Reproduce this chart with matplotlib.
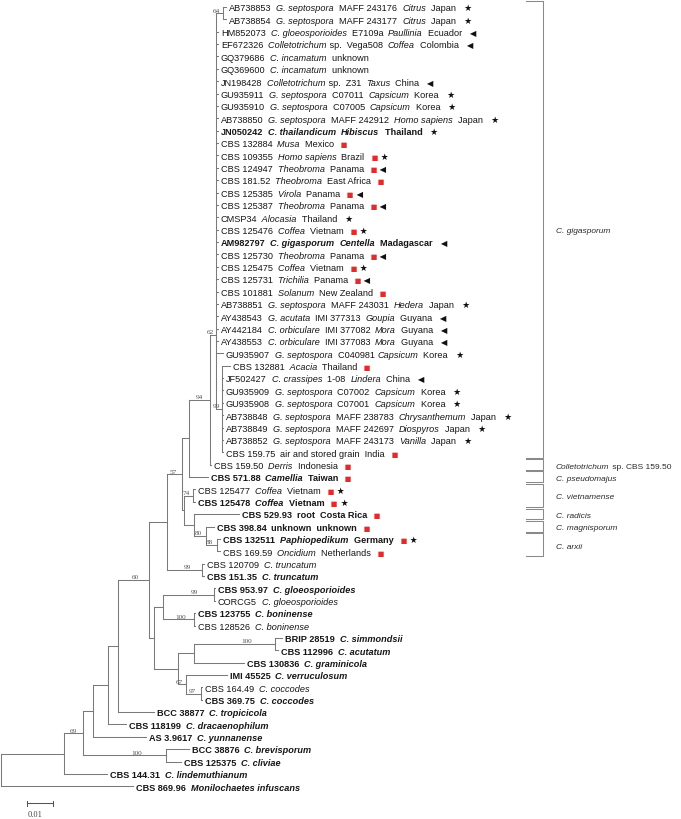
import re
import matplotlib
matplotlib.use('Agg')
import matplotlib.pyplot as plt
from matplotlib.collections import LineCollection
from matplotlib.transforms import Affine2D

# ML tree: branch lengths in substitutions/site, internal labels are bootstrap values
newick = """
((((((((((((('AB738853':0.0012,'AB738854':0.0012)64:0.0027,
'HM852073':0.0008,'EF672326':0.0008,'GQ379686':0.0008,'GQ369600':0.0008,
'JN198428':0.0008,'GU935911':0.0008,'GU935910':0.0008,'AB738850':0.0008,
'JN050242':0.0008,'CBS 132884':0.0008,'CBS 109355':0.0008,'CBS 124947':0.0008,
'CBS 181.52':0.0008,'CBS 125385':0.0008,'CBS 125387':0.0008,'CMSP34':0.0008,
'CBS 125476':0.0008,'AM982797':0.0008,'CBS 125730':0.0008,'CBS 125475':0.0008,
'CBS 125731':0.0008,'CBS 101881':0.0008,'AB738851':0.0008,'AY438543':0.0008,
'AY442184':0.0008,'AY438553':0.0008,'GU935907':0.0027,
('CBS 132881':0.0031,'JF502427':0.0004,'GU935909':0.0004,'GU935908':0.0004,
'AB738848':0.0004,'AB738849':0.0004,'AB738852':0.0004,'CBS 159.75':0.0004)99:0.0023
)62:0.0023,'CBS 159.50':0.0004)94:0.0081,'CBS 571.88':0.0073):0.0027,
(('CBS 125477':0.0008,'CBS 125478':0.0008)74:0.0035,
('CBS 529.93':0.0173,('CBS 398.84':0.0031,('CBS 132511':0.0015,'CBS 169.59':0.0012)88:0.0042)80:0.0046):0.0038
):0.0008)57:0.0058,
('CBS 120709':0.0004,'CBS 151.35':0.0004)99:0.0138):0.0069,
((('CBS 953.97':0.0004,'CORCG5':0.0004)99:0.0196,('CBS 123755':0.0004,'CBS 128526':0.0004)100:0.0119):0.0035,
((('BRIP 28519':0.0027,'CBS 112996':0.0012)100:0.0312,'CBS 130836':0.0192):0.0062,
('IMI 45525':0.0158,('CBS 164.49':0.0004,'CBS 369.75':0.0004)97:0.0058)67:0.0031):0.0092
):0.0019)60:0.0119,'BCC 38877':0.0138):0.0038,'CBS 118199':0.0069):0.0058,
'AS 3.9617':0.0204):0.0038,('BCC 38876':0.0088,'CBS 125375':0.0058)100:0.0319)69:0.0073,
'CBS 144.31':0.0165):0.0242,'CBS 869.96':0.0508);
"""

# rest of each tip label; _..._ marks italics
tip_ids = ['AB738853', 'AB738854', 'HM852073', 'EF672326', 'GQ379686', 'GQ369600',
           'JN198428', 'GU935911', 'GU935910', 'AB738850', 'JN050242', 'CBS 132884',
           'CBS 109355', 'CBS 124947', 'CBS 181.52', 'CBS 125385', 'CBS 125387', 'CMSP34',
           'CBS 125476', 'AM982797', 'CBS 125730', 'CBS 125475', 'CBS 125731', 'CBS 101881',
           'AB738851', 'AY438543', 'AY442184', 'AY438553', 'GU935907', 'CBS 132881',
           'JF502427', 'GU935909', 'GU935908', 'AB738848', 'AB738849', 'AB738852',
           'CBS 159.75', 'CBS 159.50', 'CBS 571.88', 'CBS 125477', 'CBS 125478', 'CBS 529.93',
           'CBS 398.84', 'CBS 132511', 'CBS 169.59', 'CBS 120709', 'CBS 151.35', 'CBS 953.97',
           'CORCG5', 'CBS 123755', 'CBS 128526', 'BRIP 28519', 'CBS 112996', 'CBS 130836',
           'IMI 45525', 'CBS 164.49', 'CBS 369.75', 'BCC 38877', 'CBS 118199', 'AS 3.9617',
           'BCC 38876', 'CBS 125375', 'CBS 144.31', 'CBS 869.96']
tip_text = ['_G. septospora_  MAFF 243176  _Citrus_  Japan',
            '_G. septospora_  MAFF 243177  _Citrus_  Japan',
            '_C. gloeosporioides_  E7109a  _Paullinia_  Ecuador',
            '_Colletotrichum_ sp.  Vega508  _Coffea_  Colombia',
            '_C. incamatum_  unknown',
            '_C. incamatum_  unknown',
            '_Colletotrichum_ sp.  Z31  _Taxus_  China',
            '_G. septospora_  C07011  _Capsicum_  Korea',
            '_G. septospora_  C07005  _Capsicum_  Korea',
            '_G. septospora_  MAFF 242912  _Homo sapiens_  Japan',
            '_C. thailandicum_  _Hibiscus_  Thailand',
            '_Musa_  Mexico',
            '_Homo sapiens_  Brazil',
            '_Theobroma_  Panama',
            '_Theobroma_  East Africa',
            '_Virola_  Panama',
            '_Theobroma_  Panama',
            '_Alocasia_  Thailand',
            '_Coffea_  Vietnam',
            '_C. gigasporum_  _Centella_  Madagascar',
            '_Theobroma_  Panama',
            '_Coffea_  Vietnam',
            '_Trichilia_  Panama',
            '_Solanum_  New Zealand',
            '_G. septospora_  MAFF 243031  _Hedera_  Japan',
            '_G. acutata_  IMI 377313  _Goupia_  Guyana',
            '_C. orbiculare_  IMI 377082  _Mora_  Guyana',
            '_C. orbiculare_  IMI 377083  _Mora_  Guyana',
            '_G. septospora_  C040981 _Capsicum_  Korea',
            '_Acacia_  Thailand',
            '_C. crassipes_  1-08  _Lindera_  China',
            '_G. septospora_  C07002  _Capsicum_  Korea',
            '_G. septospora_  C07001  _Capsicum_  Korea',
            '_G. septospora_  MAFF 238783  _Chrysanthemum_  Japan',
            '_G. septospora_  MAFF 242697  _Diospyros_  Japan',
            '_G. septospora_  MAFF 243173  _Vanilla_  Japan',
            'air and stored grain  India',
            '_Derris_  Indonesia',
            '_Camellia_  Taiwan',
            '_Coffea_  Vietnam',
            '_Coffea_  Vietnam',
            'root  Costa Rica',
            'unknown  unknown',
            '_Paphiopedikum_  Germany',
            '_Oncidium_  Netherlands',
            '_C. truncatum_', '_C. truncatum_',
            '_C. gloeosporioides_', '_C. gloeosporioides_',
            '_C. boninense_', '_C. boninense_',
            '_C. simmondsii_', '_C. acutatum_', '_C. graminicola_', '_C. verruculosum_',
            '_C. coccodes_', '_C. coccodes_', '_C. tropicicola_', '_C. dracaenophilum_',
            '_C. yunnanense_', '_C. brevisporum_', '_C. cliviae_', '_C. lindemuthianum_',
            '_Monilochaetes infuscans_']
# s = red square, * = star, < = triangle
tip_marks = ['*', '*', '<', '<', '', '', '<', '*', '*', '*', '*', 's', 's*', 's<', 's',
             's<', 's<', '*', 's*', '<', 's<', 's*', 's<', 's', '*', '<', '<', '<', '*', 's',
             '<', '*', '*', '*', '*', '*', 's', 's', 's', 's*', 's*', 's', 's', 's*', 's',
             '', '', '', '', '', '', '', '', '', '', '', '', '', '', '', '', '', '', '']
bold_ids = ['JN050242', 'AM982797', 'CBS 571.88', 'CBS 125478', 'CBS 529.93', 'CBS 398.84',
            'CBS 132511', 'CBS 151.35', 'CBS 953.97', 'CBS 123755', 'BRIP 28519',
            'CBS 112996', 'CBS 130836', 'IMI 45525', 'CBS 369.75', 'BCC 38877', 'CBS 118199',
            'AS 3.9617', 'BCC 38876', 'CBS 125375', 'CBS 144.31', 'CBS 869.96']

# species groups marked on the right (first tip, last tip)
clade_names = [[('C. gigasporum', 'italic')],
               [('Colletotrichum', 'italic'), (' sp. CBS 159.50', 'normal')],
               [('C. pseudomajus', 'italic')],
               [('C. vietnamense', 'italic')],
               [('C. radicis', 'italic')],
               [('C. magnisporum', 'italic')],
               [('C. arxii', 'italic')]]
clade_tips = [('AB738853', 'CBS 159.75'), ('CBS 159.50', 'CBS 159.50'),
              ('CBS 571.88', 'CBS 571.88'), ('CBS 125477', 'CBS 125478'),
              ('CBS 529.93', 'CBS 529.93'), ('CBS 398.84', 'CBS 398.84'),
              ('CBS 132511', 'CBS 169.59')]

# node drawn level with the gap between two tips, as in the original figure
node_between = {'62': ('AY442184', 'AY438553')}

scale_len = 0.01

# ---- parse ----
tokens = re.findall(r"'[^']*'|[(),:;]|[^\s(),:;']+", newick)
pos = 0
PUNCT = {'(', ')', ',', ':', ';'}


def read_node():
    global pos
    node = {'name': '', 'bl': 0.0, 'children': []}
    if tokens[pos] == '(':
        pos += 1
        node['children'].append(read_node())
        while tokens[pos] == ',':
            pos += 1
            node['children'].append(read_node())
        pos += 1
    if tokens[pos] not in PUNCT:
        node['name'] = tokens[pos].strip("'")
        pos += 1
    if tokens[pos] == ':':
        node['bl'] = float(tokens[pos + 1])
        pos += 2
    return node


root = read_node()
row_of = {}


def layout(n, x0):
    n['x'] = x0 + n['bl']
    if not n['children']:
        n['y'] = len(row_of)
        row_of[n['name']] = n['y']
        return
    for c in n['children']:
        layout(c, n['x'])
    if n['name'] in node_between:
        a, b = node_between[n['name']]
        n['y'] = (row_of[a] + row_of[b]) / 2
    else:
        n['y'] = (n['children'][0]['y'] + n['children'][-1]['y']) / 2


layout(root, 0.0)

# ---- figure ----
PX = 1 / 2600.0       # tree units per pixel
ROW = 12.37           # pixels per tip row
fig = plt.figure(figsize=(6.81, 8.20), dpi=100)
ax = fig.add_axes([0, 0, 1, 1])
ax.set_xlim(-1 * PX, 680 * PX)
ax.set_ylim((820 - 8) / ROW, -8 / ROW)
ax.axis('off')

line_col = '#7a7a7a'
segs = []
boot = []


def collect(n):
    for c in n['children']:
        segs.append([(n['x'], c['y']), (c['x'], c['y'])])
        if c['children'] and c['name']:
            boot.append(c)
        collect(c)
    if n['children']:
        segs.append([(n['x'], n['children'][0]['y']), (n['x'], n['children'][-1]['y'])])


collect(root)
ax.add_collection(LineCollection(segs, colors=line_col, linewidths=0.75, capstyle='projecting'))

for c in boot:
    off = 0.3 * c['bl'] + 4 * PX
    ax.text(c['x'] - off, c['y'] - 1.6 / ROW, c['name'], ha='center', va='baseline',
            fontsize=5.2, family='Liberation Serif', color='#555555')

renderer = fig.canvas.get_renderer()
marks = {'s': ('\u25a0', '#e32b2b', 5.0), '*': ('\u2605', '#111111', 6.3),
         '<': ('\u25c0', '#111111', 6.0)}


def draw_run(x, y, pieces, dx=0):
    trans = ax.transData + Affine2D().translate(dx, 0)
    for text, kw in pieces:
        t = ax.text(x, y, text, transform=trans, va='baseline', **kw)
        w = t.get_window_extent(renderer=renderer).width
        trans = trans + Affine2D().translate(w, 0)
    return trans


tips = {}


def find_tips(n):
    if not n['children']:
        tips[n['name']] = n
    for c in n['children']:
        find_tips(c)


find_tips(root)

for tid, rest, mk in zip(tip_ids, tip_text, tip_marks):
    n = tips[tid]
    weight = 'bold' if tid in bold_ids else 'normal'
    base = dict(fontsize=6.6, family='Liberation Sans', color='#161616', fontweight=weight)
    pieces = [(tid, dict(base))]
    for i, part in enumerate(rest.split('_')):
        if not part:
            continue
        kw = dict(base)
        kw['fontstyle'] = 'italic' if i % 2 else 'normal'
        if i == 0 or (i == 1 and rest.startswith('_')):
            part = '  ' + part
        pieces.append((part, kw))
    for j, m in enumerate(mk):
        ch, col, fs = marks[m]
        pieces.append((('   ' if j == 0 else ' ') + ch,
                       dict(fontsize=fs, family='DejaVu Sans', color=col)))
    draw_run(n['x'], n['y'] + 3.3 / ROW, pieces, dx=3)

# brackets and group names on the right
bx, bx0, lx = 542 * PX, 525 * PX, 555 * PX
for names, (a, b) in zip(clade_names, clade_tips):
    y0, y1 = row_of[a] - 0.45, row_of[b] + 0.42
    ax.plot([bx0, bx, bx, bx0], [y0, y0, y1, y1], color='#8a8a8a', lw=0.75)
    pieces = [(t, dict(fontsize=6.0, family='Liberation Sans', color='#2a2a2a', fontstyle=s))
              for t, s in names]
    draw_run(lx, (y0 + y1) / 2 + 3.0 / ROW, pieces)

# scale bar
sy = (804 - 8) / ROW
sx0 = 26 * PX
ax.plot([sx0, sx0 + scale_len], [sy, sy], color='#555555', lw=0.75)
for xx in (sx0, sx0 + scale_len):
    ax.plot([xx, xx], [sy - 2.5 / ROW, sy + 2.5 / ROW], color='#555555', lw=0.75)
ax.text(sx0 + 0.3 * scale_len, (815 - 8) / ROW, '%.2f' % scale_len, ha='center', va='center',
        fontsize=6, family='Liberation Serif', color='#444444')

fig.savefig('out.png', dpi=100)
